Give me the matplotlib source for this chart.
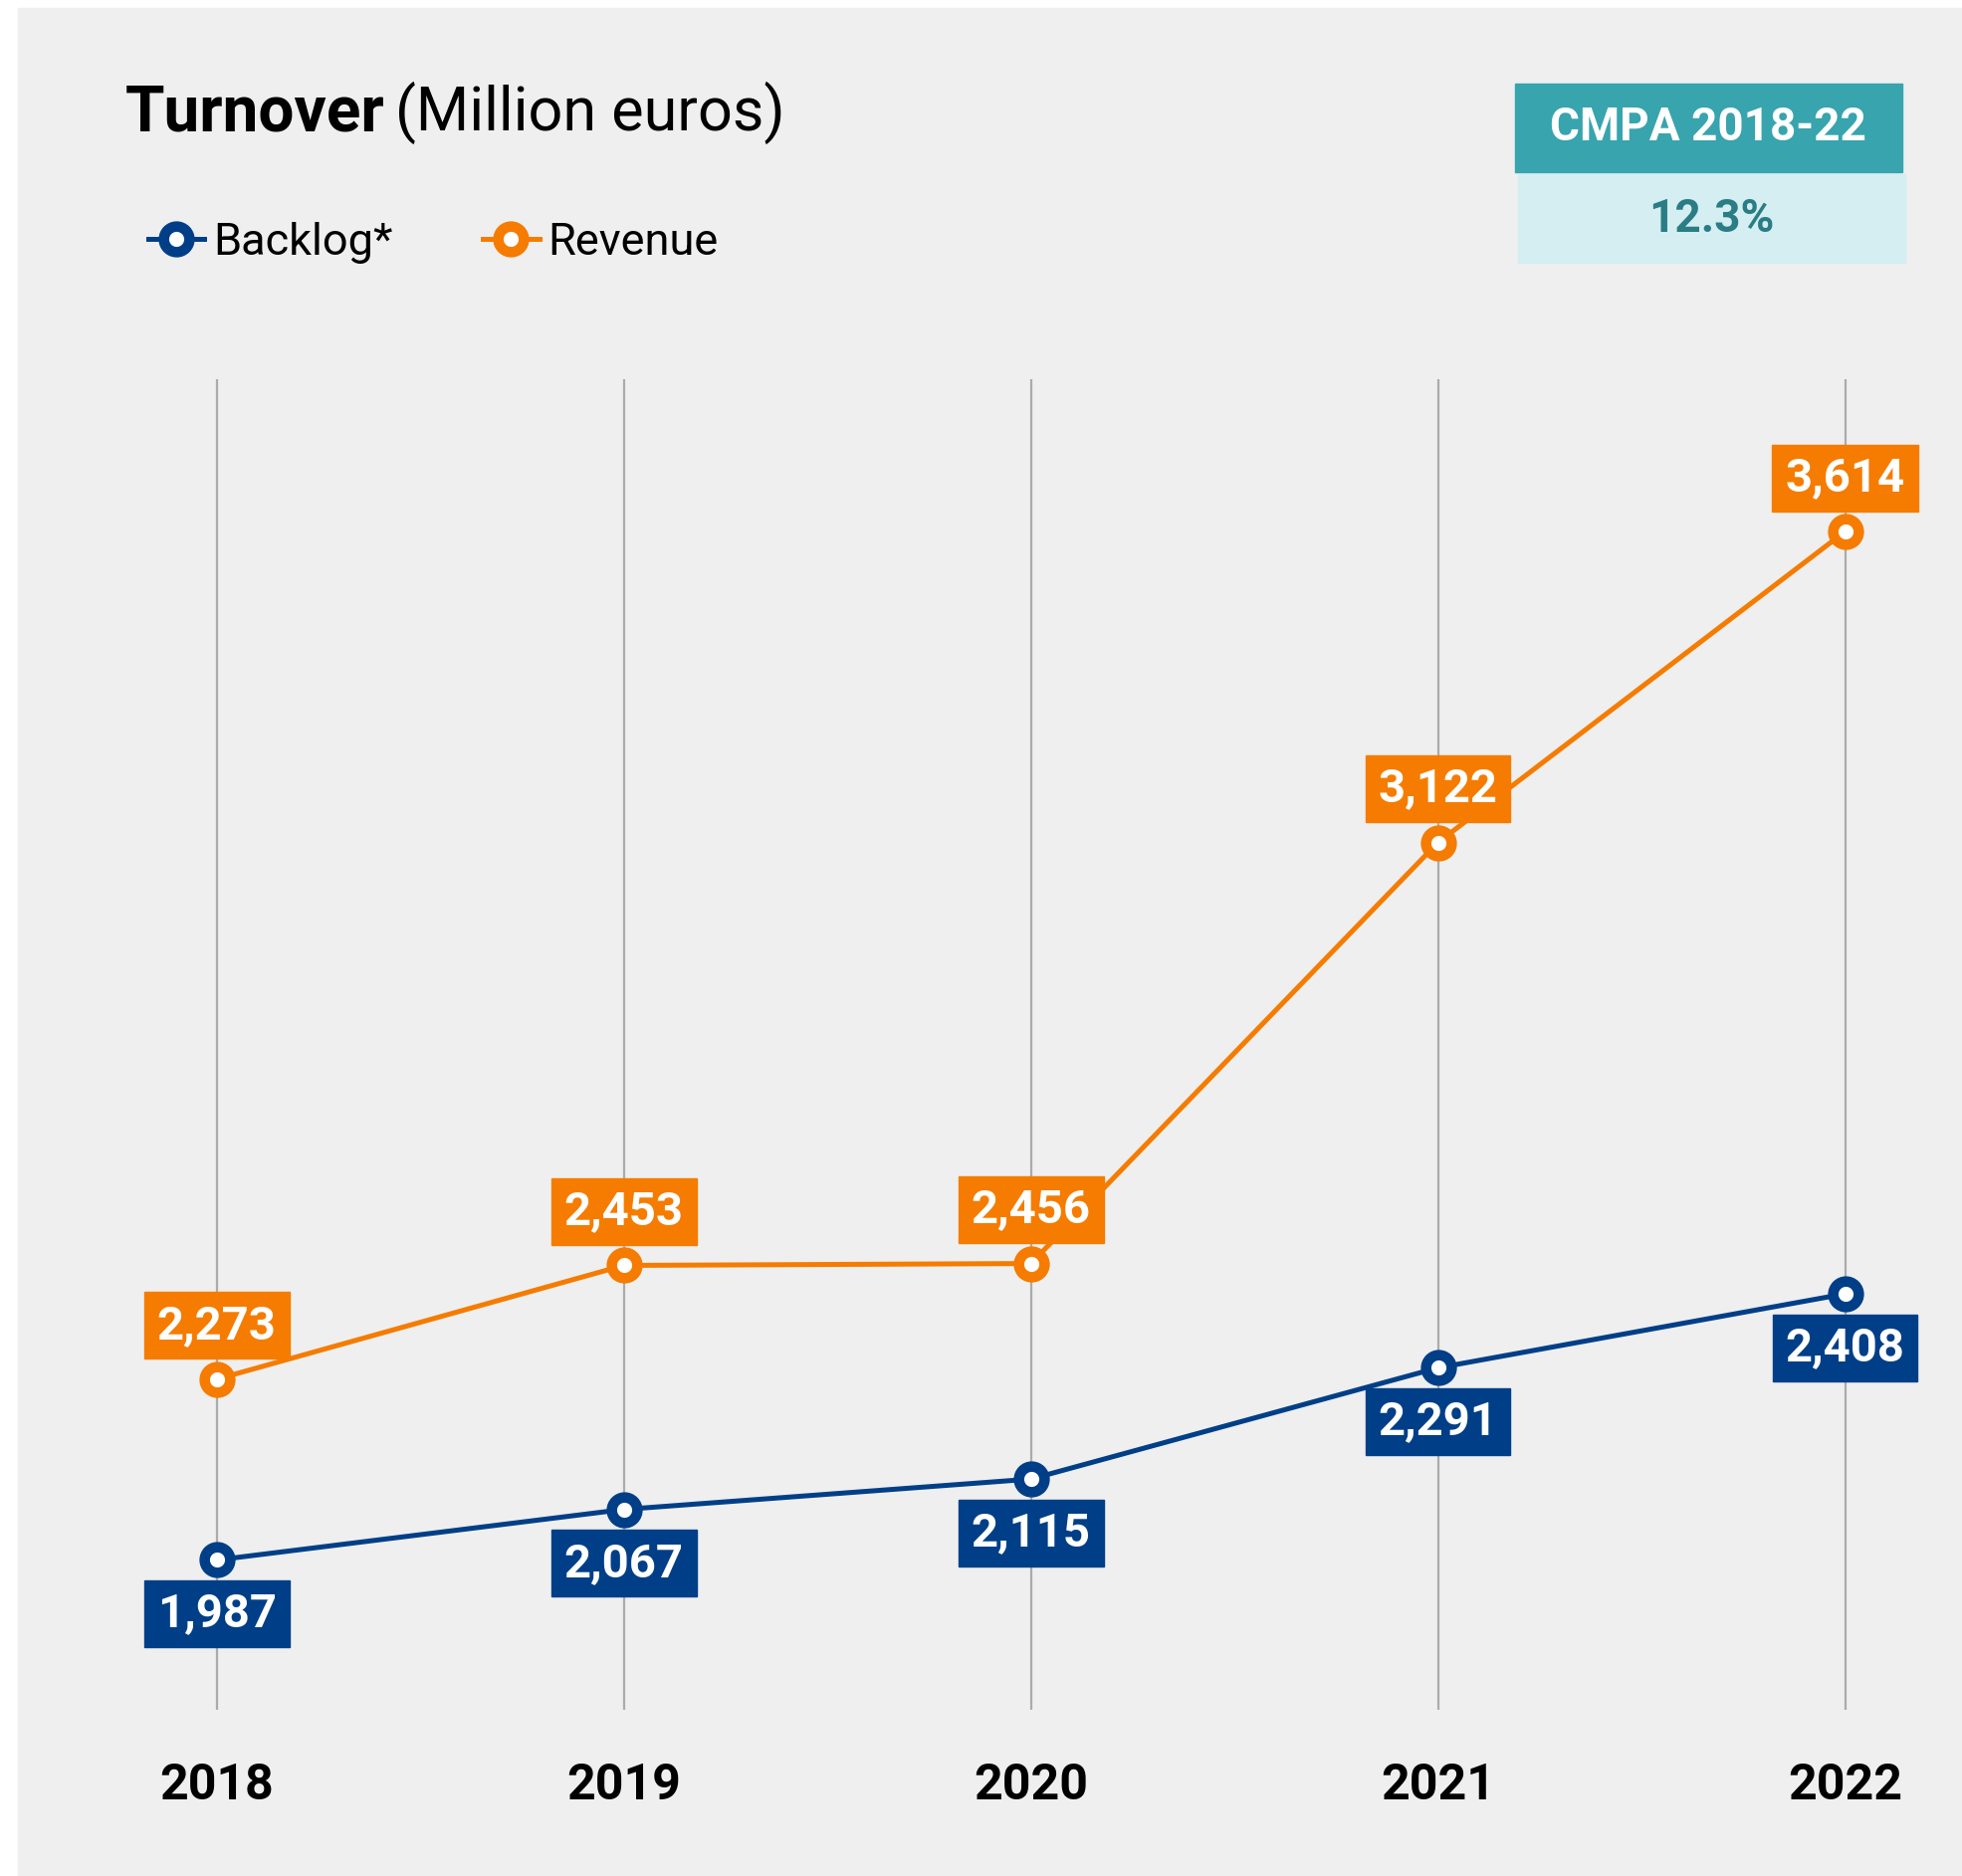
import numpy as np
import matplotlib.pyplot as plt
from matplotlib.patches import Rectangle

# data
years = ['2018', '2019', '2020', '2021', '2022']
backlog = [1987, 2067, 2115, 2291, 2408]
revenue = [2273, 2453, 2456, 3122, 3614]
cmpa_title = 'CMPA 2018-22'
cmpa_value = '12.3%'

W, H = 1971, 1885
ORANGE = '#f57c00'
NAVY = '#003f87'
GRID = '#ababab'
PANEL = '#efefef'

plt.rcParams['font.family'] = ['Roboto', 'DejaVu Sans']


def fx(x):
    return x / W


def fy(y):
    return 1 - y / H


fig = plt.figure(figsize=(W / 100, H / 100), dpi=100)
fig.patch.set_facecolor('white')
fig.add_artist(Rectangle((fx(18), 0), 1 - fx(18), fy(8), transform=fig.transFigure,
                         color=PANEL, zorder=-10))

# plot area (pixels of the target)
left, right, top, bottom = 100, 1960, 381, 1718
ax = fig.add_axes([fx(left), fy(bottom), (right - left) / W, (bottom - top) / H])
ax.patch.set_alpha(0)
x = np.arange(len(years))
x0, x4 = 217.7, 1853.5
step = (x4 - x0) / 4
ax.set_xlim(-(x0 - left) / step, 4 + (right - x4) / step)
ax.set_ylim(1750, 3855)

for vals, col, lab in [(backlog, NAVY, 'Backlog*'), (revenue, ORANGE, 'Revenue')]:
    ax.plot(x, vals, color=col, lw=3.6, marker='o', ms=18.5, mfc='white',
            mec=col, mew=7.6, label=lab, zorder=3)

ax.set_xticks(x, years)
ax.set_yticks([])
ax.xaxis.grid(True, color=GRID, lw=1.6)
ax.tick_params(axis='x', length=0, pad=38, labelsize=36)
for lbl in ax.get_xticklabels():
    lbl.set_fontweight('bold')
for s in ax.spines.values():
    s.set_visible(False)

# value labels
labels = []
for vals, col, sign in [(backlog, NAVY, -1), (revenue, ORANGE, 1)]:
    for i, v in enumerate(vals):
        t = ax.annotate(f'{v:,}', (i, v), xytext=(0, sign * 38.9), textcoords='offset points',
                        ha='center', va='center', color='white', fontsize=34,
                        fontweight='bold', zorder=6)
        labels.append((t, col))

# title
t1 = fig.text(fx(126), fy(131), 'Turnover', fontsize=46, fontweight='bold', va='baseline')

# legend
fig.legend(loc='center left', bbox_to_anchor=(fx(149), fy(244)), frameon=False,
           fontsize=32.5, ncol=2, handlelength=1.25, handletextpad=0.2,
           columnspacing=2.0, borderpad=0, borderaxespad=0)

# CMPA box
fig.add_artist(Rectangle((fx(1522), fy(173)), 389 / W, 89 / H, transform=fig.transFigure,
                         color='#37a4ae', zorder=1))
fig.add_artist(Rectangle((fx(1525), fy(264)), 389 / W, 89 / H, transform=fig.transFigure,
                         color='#d4eef1', zorder=1))
fig.text(fx(1716), fy(128), cmpa_title, color='white', fontsize=33, fontweight='bold',
         ha='center', va='center')
fig.text(fx(1719), fy(220), cmpa_value, color='#2a7d85', fontsize=33, fontweight='bold',
         ha='center', va='center')

fig.canvas.draw()
bb = t1.get_window_extent()
fig.text((bb.x1 + 10) / W, fy(131), '(Million euros)', fontsize=44, fontweight='normal',
         va='baseline')

inv = ax.transData.inverted()
for t, col in labels:
    b = t.get_window_extent()
    yc = (b.y0 + b.y1) / 2
    (dx0, dy0), (dx1, dy1) = inv.transform([(b.x0 - 13, yc - 33.5), (b.x1 + 13, yc + 33.5)])
    ax.add_artist(Rectangle((dx0, dy0), dx1 - dx0, dy1 - dy0, color=col, zorder=5, clip_on=False))

fig.savefig('out.png', dpi=100)
